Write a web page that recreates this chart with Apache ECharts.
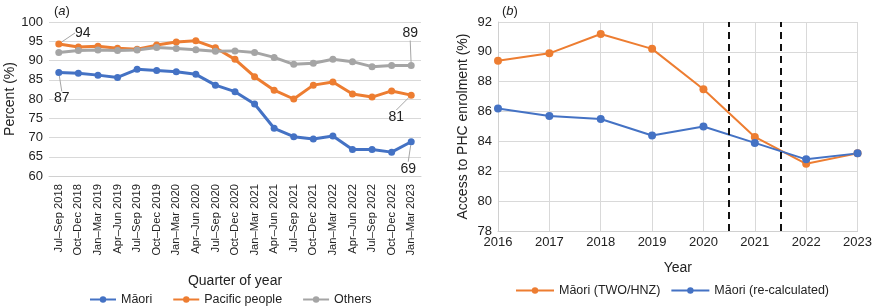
<!DOCTYPE html>
<html>
<head>
<meta charset="utf-8">
<script src="https://cdn.jsdelivr.net/npm/echarts@6/dist/echarts.min.js"></script>
<style>
  html, body { margin: 0; padding: 0; background: #fff; }
  #main { width: 875px; height: 306px; }
</style>
</head>
<body>
<div id="main"></div>
<script>
// ---- panel (a): quarterly enrolment ----
var quarters = ['Jul–Sep 2018', 'Oct–Dec 2018', 'Jan–Mar 2019', 'Apr–Jun 2019', 'Jul–Sep 2019',
  'Oct–Dec 2019', 'Jan–Mar 2020', 'Apr–Jun 2020', 'Jul–Sep 2020', 'Oct–Dec 2020',
  'Jan–Mar 2021', 'Apr–Jun 2021', 'Jul–Sep 2021', 'Oct–Dec 2021', 'Jan–Mar 2022',
  'Apr–Jun 2022', 'Jul–Sep 2022', 'Oct–Dec 2022', 'Jan–Mar 2023'];
var maori = [86.9, 86.7, 86.2, 85.6, 87.7, 87.4, 87.1, 86.4, 83.6, 81.9,
  78.7, 72.4, 70.2, 69.6, 70.4, 66.9, 66.9, 66.2, 68.9];
var pacific = [94.3, 93.5, 93.7, 93.2, 92.9, 94.0, 94.8, 95.1, 93.3, 90.3,
  85.8, 82.3, 80.0, 83.6, 84.4, 81.3, 80.5, 82.1, 81.0];
var others = [92.1, 92.6, 92.7, 92.6, 92.7, 93.4, 93.1, 92.8, 92.4, 92.5,
  92.1, 90.8, 89.0, 89.3, 90.3, 89.7, 88.4, 88.7, 88.7];
// which points carry a value label: [seriesName, dataIndex, text]
var callouts = [['Pacific people', 0, '94'], ['Māori', 0, '87'], ['Others', 18, '89'],
  ['Pacific people', 18, '81'], ['Māori', 18, '69']];

// ---- panel (b): yearly access ----
var years = [2016, 2017, 2018, 2019, 2020, 2021, 2022, 2023];
var maoriTwo = [89.4, 89.9, 91.2, 90.2, 87.5, 84.3, 82.5, 83.2];
var maoriRecalc = [86.2, 85.7, 85.5, 84.4, 85.0, 83.9, 82.8, 83.2];
var cutYears = [2020.5, 2021.5];

var FONT = 'Liberation Sans';
var BLUE = '#4472C4', ORANGE = '#ED7D31', GREY = '#A5A5A5';

// label offsets (dx, dy) from the point, keyed by text
var calloutShift = { '94': [24, -11], '87': [3, 26], '89': [-1, -32], '81': [-15, 22], '69': [-3, 27] };

function withCallouts(name, values) {
  return values.map(function (v, i) {
    var c = callouts.filter(function (k) { return k[0] === name && k[1] === i; })[0];
    if (!c) return v;
    return {
      value: v,
      label: { show: true, position: 'inside', formatter: c[2], fontSize: 14, color: '#222', fontFamily: FONT },
      labelLine: { show: true, lineStyle: { color: GREY, width: 1 } }
    };
  });
}

function quarterSeries(name, values, color) {
  return {
    name: name, type: 'line', xAxisIndex: 0, yAxisIndex: 0,
    data: withCallouts(name, values),
    symbol: 'circle', symbolSize: 7,
    lineStyle: { width: 3, color: color },
    itemStyle: { color: color },
    label: { show: false },
    labelLayout: function (p) {
      var s = calloutShift[p.text];
      return s ? { dx: s[0], dy: s[1] } : {};
    },
    z: 3
  };
}

function yearSeries(name, values, color, extra) {
  var s = {
    name: name, type: 'line', xAxisIndex: 1, yAxisIndex: 1,
    data: years.map(function (y, i) { return [y, values[i]]; }),
    symbol: 'circle', symbolSize: 8,
    lineStyle: { width: 2, color: color },
    itemStyle: { color: color }
  };
  return Object.assign(s, extra || {});
}

var chart = echarts.init(document.getElementById('main'));
chart.setOption({
  animation: false,
  textStyle: { fontFamily: FONT },
  title: [
    { text: '({i|a})', left: 49, top: 0, textStyle: { fontSize: 13, fontWeight: 'normal', color: '#222', fontFamily: FONT,
      rich: { i: { fontStyle: 'italic', fontSize: 13, color: '#222', fontFamily: FONT } } } },
    { text: '({i|b})', left: 497, top: 0, textStyle: { fontSize: 13, fontWeight: 'normal', color: '#222', fontFamily: FONT,
      rich: { i: { fontStyle: 'italic', fontSize: 13, color: '#222', fontFamily: FONT } } } }
  ],
  legend: [
    { data: ['Māori', 'Pacific people', 'Others'], left: 84, top: 288, itemWidth: 26, itemHeight: 8, itemGap: 20,
      textStyle: { fontSize: 12.5, color: '#222', fontFamily: FONT } },
    { data: ['Māori (TWO/HNZ)', 'Māori (re-calculated)'], left: 510, top: 279, itemWidth: 38, itemHeight: 8, itemGap: 10,
      textStyle: { fontSize: 12.5, color: '#222', fontFamily: FONT } }
  ],
  grid: [
    { left: 49, top: 22, width: 372, height: 154 },
    { left: 498, top: 22, width: 363, height: 209 }
  ],
  xAxis: [
    { gridIndex: 0, type: 'category', data: quarters, boundaryGap: true,
      name: 'Quarter of year', nameLocation: 'middle', nameGap: 98,
      nameTextStyle: { fontSize: 14, color: '#222' },
      axisLine: { lineStyle: { color: '#d0d0d0' } }, axisTick: { show: false },
      axisLabel: { interval: 0, rotate: 90, fontSize: 11.2, color: '#222', margin: 8 } },
    { gridIndex: 1, type: 'value', min: 2016, max: 2023, interval: 1,
      name: 'Year', nameLocation: 'middle', nameGap: 30,
      nameTextStyle: { fontSize: 14, color: '#222' },
      axisLine: { lineStyle: { color: '#d0d0d0' } }, axisTick: { show: false },
      splitLine: { show: true, lineStyle: { color: '#d9d9d9' } },
      axisLabel: { fontSize: 13, color: '#222', margin: 5, formatter: function (v) { return String(v); } } }
  ],
  yAxis: [
    { gridIndex: 0, type: 'value', min: 60, max: 100, interval: 5,
      name: 'Percent (%)', nameLocation: 'middle', nameGap: 32,
      nameTextStyle: { fontSize: 14, color: '#222' },
      axisLine: { show: false }, axisTick: { show: false },
      splitLine: { lineStyle: { color: '#d9d9d9' } },
      axisLabel: { fontSize: 13, color: '#222', margin: 6 } },
    { gridIndex: 1, type: 'value', min: 78, max: 92, interval: 2,
      name: 'Access to PHC enrolment (%)', nameLocation: 'middle', nameGap: 28,
      nameTextStyle: { fontSize: 14, color: '#222' },
      axisLine: { show: true, lineStyle: { color: '#d0d0d0' } }, axisTick: { show: false },
      splitLine: { lineStyle: { color: '#d9d9d9' } },
      axisLabel: { fontSize: 13, color: '#222', margin: 6 } }
  ],
  series: [
    quarterSeries('Māori', maori, BLUE),
    quarterSeries('Pacific people', pacific, ORANGE),
    quarterSeries('Others', others, GREY),
    yearSeries('Māori (TWO/HNZ)', maoriTwo, ORANGE, {
      markLine: {
        silent: true, symbol: 'none', label: { show: false },
        lineStyle: { color: '#111', type: [7, 5], width: 2 },
        data: cutYears.map(function (x) { return { xAxis: x }; })
      }
    }),
    yearSeries('Māori (re-calculated)', maoriRecalc, BLUE)
  ]
});
</script>
</body>
</html>
